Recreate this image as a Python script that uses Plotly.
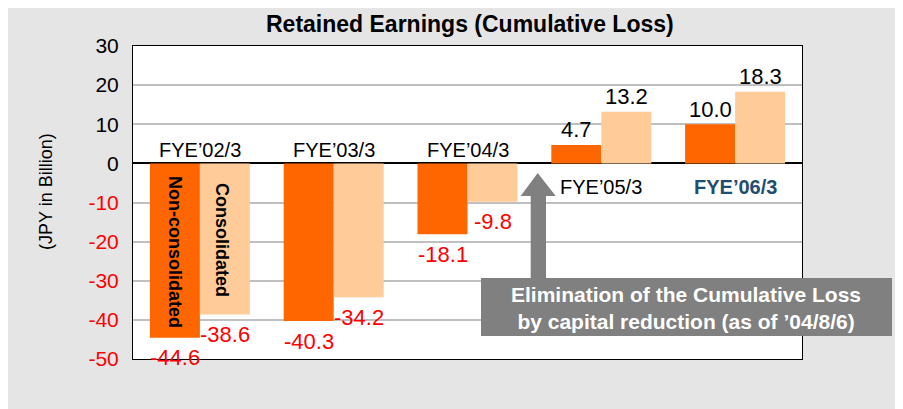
import plotly.graph_objects as go

# ---------------- data ----------------
categories = ["FYE’02/3", "FYE’03/3", "FYE’04/3", "FYE’05/3", "FYE’06/3"]
non_consolidated = [-44.6, -40.3, -18.1, 4.7, 10.0]
consolidated = [-38.6, -34.2, -9.8, 13.2, 18.3]
tick_values = [30, 20, 10, 0, -10, -20, -30, -40, -50]
title_text = "Retained Earnings (Cumulative Loss)"
y_title = "(JPY in Billion)"
series_names = ["Non-consolidated", "Consolidated"]
note_lines = ["Elimination of the Cumulative Loss", "by capital reduction (as of ’04/8/6)"]

# ---------------- geometry helpers ----------------
# page offset of the figure (browser body margin)
OX, OY = 8, 8
W, H = 903 - OX, 409 - OY
PL, PR, PT, PB = 133, 802, 46, 359  # plot area in page pixels


def px_x(x):
    return (x - PL) / (PR - PL)


def px_y(y):
    return (PB - y) / (PB - PT)


FONT = "Arial, Liberation Sans, sans-serif"
ORANGE = "#FF6600"
PEACH = "#FFCC99"
GRAY = "#808080"
BG = "#E5E5E5"
RED = "#FF0000"

fig = go.Figure()
fig.add_bar(x=categories, y=non_consolidated, name=series_names[0],
            marker=dict(color=ORANGE, line=dict(width=0)))
fig.add_bar(x=categories, y=consolidated, name=series_names[1],
            marker=dict(color=PEACH, line=dict(width=0)))

ticktext = [
    (f"<span style='color:{RED}'>{v}</span>" if v < 0 else str(v))
    for v in tick_values
]

annotations = []
shapes = []

# title
annotations.append(dict(text=f"<b>{title_text}</b>", xref="paper", yref="paper",
                        x=px_x(470), y=px_y(24), xanchor="center", yanchor="middle",
                        showarrow=False, font=dict(family=FONT, size=23, color="black")))
# y title
annotations.append(dict(text=y_title, xref="paper", yref="paper", textangle=-90,
                        x=px_x(46), y=px_y(192), xanchor="center", yanchor="middle",
                        showarrow=False, font=dict(family=FONT, size=18, color="black")))

# category labels
for i, c in enumerate(categories):
    above = i < 3
    last = i == len(categories) - 1
    annotations.append(dict(
        text=(f"<b>{c}</b>" if last else c), xref="x", yref="paper", x=c,
        y=px_y(150 if above else 187), xanchor="center", yanchor="middle",
        showarrow=False,
        font=dict(family=FONT, size=20, color="#1F4E6E" if last else "black")))

# value labels
for vals, xs in ((non_consolidated, -25), (consolidated, 25)):
    for c, v in zip(categories, vals):
        annotations.append(dict(
            text=f"{v:.1f}", xref="x", yref="y", x=c, y=v, xshift=xs,
            yshift=(-20 if v < 0 else 15), xanchor="center", yanchor="middle",
            showarrow=False,
            font=dict(family=FONT, size=22, color=RED if v < 0 else "black")))

# rotated series names inside first bars
annotations.append(dict(text=f"<b>{series_names[0]}</b>", xref="paper", yref="paper",
                        x=px_x(175), y=px_y(252), textangle=90, showarrow=False,
                        xanchor="center", yanchor="middle",
                        font=dict(family=FONT, size=18, color="black")))
annotations.append(dict(text=f"<b>{series_names[1]}</b>", xref="paper", yref="paper",
                        x=px_x(222), y=px_y(240), textangle=90, showarrow=False,
                        xanchor="center", yanchor="middle",
                        font=dict(family=FONT, size=18, color="black")))

# arrow
ax = [537.7, 555.7, 546, 546, 530.7, 530.7, 520.7]
ay = [173, 196, 196, 278, 278, 196, 196]
path = "M " + " L ".join(f"{px_x(a):.5f},{px_y(b):.5f}" for a, b in zip(ax, ay)) + " Z"
shapes.append(dict(type="path", xref="paper", yref="paper", path=path,
                   fillcolor=GRAY, line=dict(width=0), layer="above"))
# note box
shapes.append(dict(type="rect", xref="paper", yref="paper", layer="above",
                   x0=px_x(481), x1=px_x(892), y0=px_y(336), y1=px_y(278),
                   fillcolor=GRAY, line=dict(width=0)))
annotations.append(dict(text="<b>" + "<br>".join(note_lines) + "</b>", xref="paper", yref="paper",
                        x=px_x(686), y=px_y(308), xanchor="center", yanchor="middle",
                        showarrow=False, align="center",
                        font=dict(family=FONT, size=21, color="white")))

fig.update_layout(
    width=W, height=H,
    margin=dict(l=PL - OX, r=(W + OX) - PR, t=PT - OY, b=(H + OY) - PB, pad=0),
    paper_bgcolor=BG, plot_bgcolor="white",
    barmode="group", bargap=0.2526, bargroupgap=0,
    showlegend=False,
    font=dict(family=FONT, color="black"),
    xaxis=dict(showticklabels=False, ticks="", showgrid=False, showline=True,
               linecolor="black", linewidth=1, mirror=True, zeroline=False),
    yaxis=dict(range=[-50, 30], tickvals=tick_values, ticktext=ticktext,
               tickfont=dict(family=FONT, size=21, color="black"),
               ticks="", ticklabelstandoff=9,
               showgrid=True, gridcolor="#C0C0C0", gridwidth=1.5,
               zeroline=True, zerolinecolor="black", zerolinewidth=1.5,
               showline=True, linecolor="black", linewidth=1, mirror=True),
    annotations=annotations, shapes=shapes,
)

fig.write_html("out.html")
